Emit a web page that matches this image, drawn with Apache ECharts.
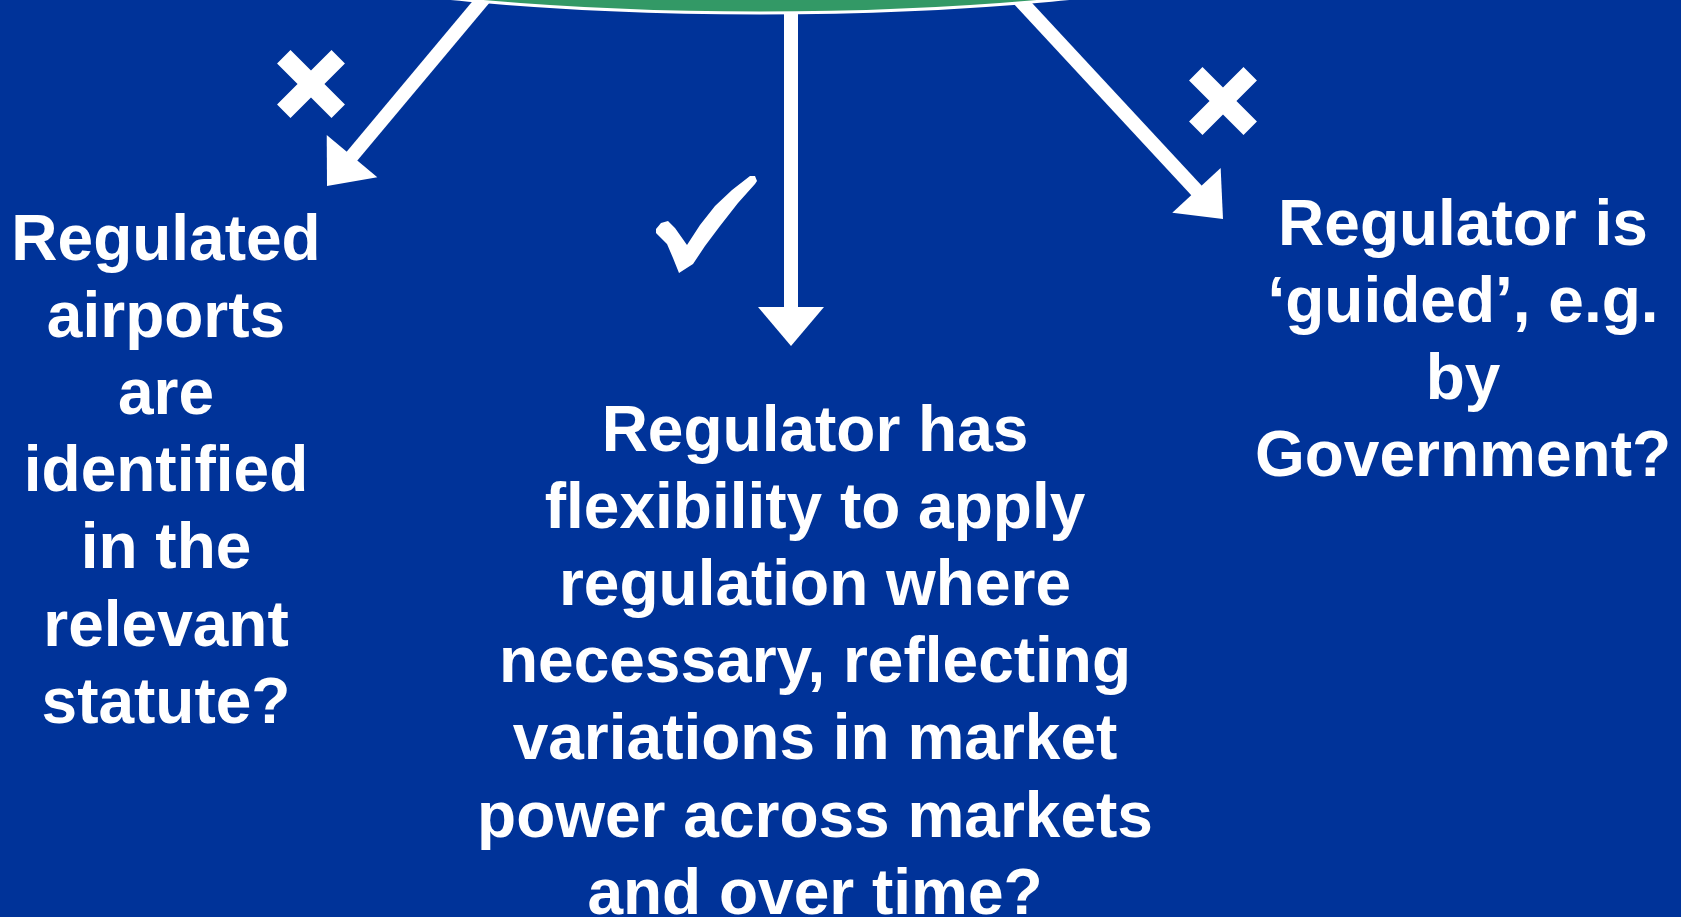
<!DOCTYPE html>
<html>
<head>
<meta charset="utf-8">
<script src="https://cdn.jsdelivr.net/npm/echarts@6/dist/echarts.min.js"></script>
<style>
  html, body { margin: 0; padding: 0; background: #003399; }
  #chart { width: 1681px; height: 917px; }
</style>
</head>
<body>
<div id="chart"></div>
<script>
// text of the three outcomes, one entry per line
const leftLines = ['Regulated', 'airports', 'are', 'identified', 'in the', 'relevant', 'statute?']
const centerLines = [
  'Regulator has',
  'flexibility to apply',
  'regulation where',
  'necessary, reflecting',
  'variations in market',
  'power across markets',
  'and over time?'
]
const rightLines = ['Regulator is', '\u2018guided\u2019, e.g.', 'by', 'Government?']

const BG = '#003399'
const GREEN = '#339966'
const FONT = '700 64px "Liberation Sans", Arial, sans-serif'
const LINE_H = 77.2

// arrow = shaft + triangular head, from start to tip (all polygons)
function arrow(x0, y0, x1, y1) {
  const dx = x1 - x0, dy = y1 - y0
  const len = Math.sqrt(dx * dx + dy * dy)
  const ux = dx / len, uy = dy / len
  const px = -uy, py = ux
  const headLen = 39, headHalf = 33, w = 7
  const bx = x1 - ux * headLen, by = y1 - uy * headLen
  const ex = bx + ux * 2, ey = by + uy * 2
  return [
    {
      type: 'polygon', z: 1,
      shape: { points: [[x0 + px * w, y0 + py * w], [ex + px * w, ey + py * w], [ex - px * w, ey - py * w], [x0 - px * w, y0 - py * w]] },
      style: { fill: '#fff' }
    },
    {
      type: 'polygon', z: 1,
      shape: { points: [[x1, y1], [bx + px * headHalf, by + py * headHalf], [bx - px * headHalf, by - py * headHalf]] },
      style: { fill: '#fff' }
    }
  ]
}

// diagonal cross made of one 12-point polygon
function cross(cx, cy) {
  const h = 38.5, a = 9.5
  const base = [[a, -h], [a, -a], [h, -a], [h, a], [a, a], [a, h],
    [-a, h], [-a, a], [-h, a], [-h, -a], [-a, -a], [-a, -h]]
  const c = Math.SQRT1_2
  return [{
    type: 'polygon', z: 2,
    shape: { points: base.map(function (p) { return [cx + (p[0] - p[1]) * c, cy + (p[0] + p[1]) * c] }) },
    style: { fill: '#fff' }
  }]
}

function textBlock(lines, cx, y0) {
  return lines.map(function (s, i) {
    return {
      type: 'text', x: cx, y: y0 + i * LINE_H, z: 3,
      style: {
        text: s, font: FONT, fill: '#fff',
        textAlign: 'center', textVerticalAlign: 'middle'
      }
    }
  })
}

const graphic = [].concat(
  arrow(486, -4, 327, 186),
  arrow(791, 10, 791, 346),
  arrow(1016, -4, 1223, 219),
  [{
    type: 'ellipse', z: 2,
    shape: { cx: 760, cy: -150, rx: 749, ry: 163 },
    style: { fill: GREEN, stroke: '#fff', lineWidth: 3 }
  }],
  cross(311, 84),
  cross(1223, 101),
  [{
    type: 'polygon', z: 2,
    shape: {
      points: [[656, 229], [661, 223], [668, 221], [675, 228], [687, 245], [700, 225], [715, 206],
        [732, 190], [750, 176], [755, 176], [757, 181], [755, 184], [738, 203], [720, 226],
        [705, 246], [693, 264], [679, 273], [673, 258], [667, 244], [656, 233]]
    },
    style: { fill: '#fff' }
  }],
  textBlock(leftLines, 166, 242),
  textBlock(centerLines, 815, 433),
  textBlock(rightLines, 1463, 227)
)

const chart = echarts.init(document.getElementById('chart'), null, { renderer: 'canvas' })
chart.setOption({
  backgroundColor: BG,
  animation: false,
  graphic: graphic
})
window.addEventListener('resize', function () { chart.resize() })
</script>
</body>
</html>
